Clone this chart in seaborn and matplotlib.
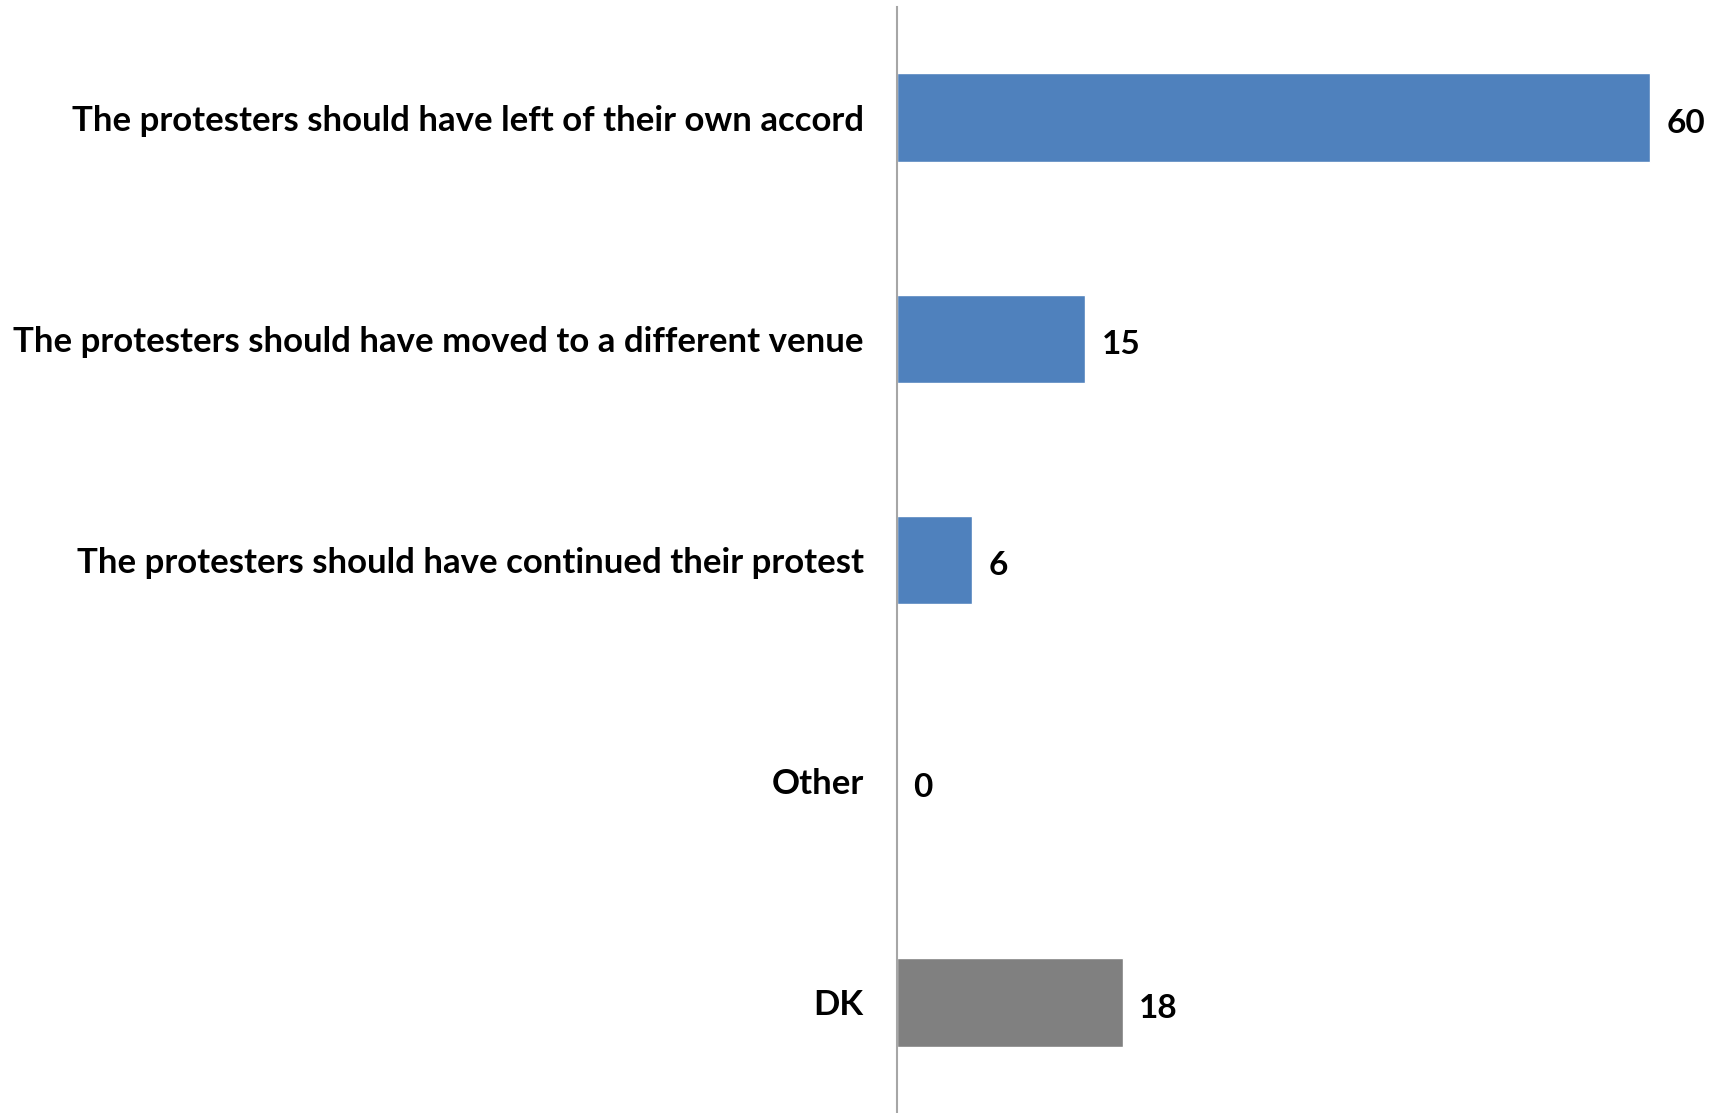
import matplotlib
matplotlib.use("Agg")
import matplotlib.pyplot as plt
import seaborn as sns
import pandas as pd

categories = [
    "The protesters should have left of their own accord",
    "The protesters should have moved to a different venue",
    "The protesters should have continued their protest",
    "Other",
    "DK",
]
values = [60, 15, 6, 0, 18]
colors = ["#4F81BD", "#4F81BD", "#4F81BD", "#4F81BD", "#808080"]

sns.set_style("white")
plt.rcParams['font.family'] = ['Lato', 'DejaVu Sans']
plt.rcParams['text.color'] = 'black'
plt.rcParams['ytick.color'] = 'black'

df = pd.DataFrame({"cat": categories, "val": values})

fig = plt.figure(figsize=(17.19, 11.13), dpi=100)
ax = fig.add_axes([897/1719, 0.0, 1 - 897/1719, 1 - 7/1113])
sns.barplot(data=df, y="cat", x="val", hue="cat", palette=colors, legend=False,
            orient="h", width=0.4, ax=ax, saturation=1)
ax.set_xlim(0, 65.5)
ax.set_ylim(4.5, -0.5)
ax.set_xlabel("")
ax.set_ylabel("")
ax.set_xticks([])
for s in ["top", "right", "bottom"]:
    ax.spines[s].set_visible(False)
ax.spines["left"].set_color("#A6A6A6")
ax.spines["left"].set_linewidth(1.5)
ax.tick_params(axis="y", length=0, pad=24, labelsize=25, labelcolor="black")
for lbl in ax.get_yticklabels():
    lbl.set_fontweight("bold")
for i, v in enumerate(values):
    ax.text(v + 1.3, i + 0.015, str(v), va="center_baseline", ha="left", fontsize=24,
            fontweight="bold", color="black")

fig.savefig("out.png", dpi=100)
